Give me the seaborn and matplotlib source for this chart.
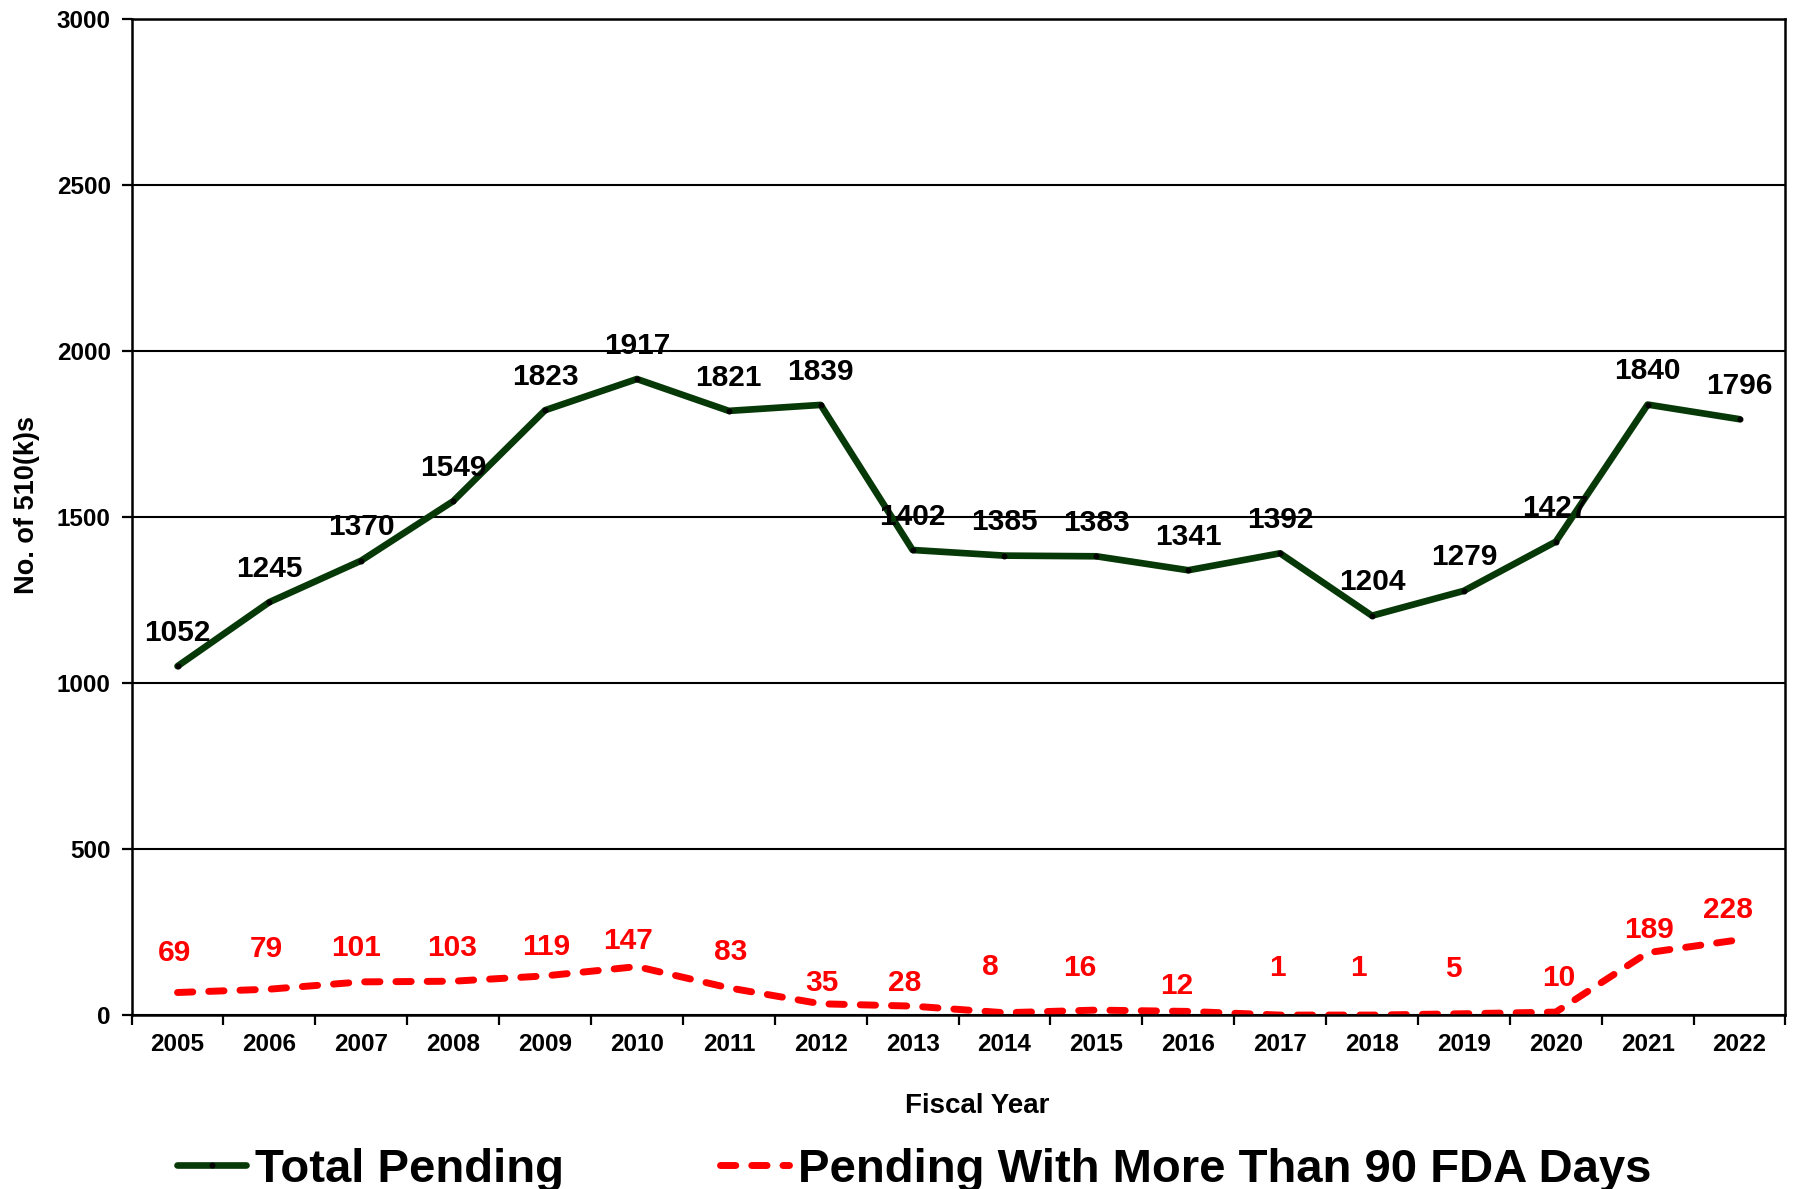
import numpy as np
import pandas as pd
import matplotlib
matplotlib.use("Agg")
import matplotlib.pyplot as plt
import seaborn as sns

# Fiscal years and pending 510(k) counts
years = ["2005", "2006", "2007", "2008", "2009", "2010", "2011", "2012", "2013",
         "2014", "2015", "2016", "2017", "2018", "2019", "2020", "2021", "2022"]
total_pending = [1052, 1245, 1370, 1549, 1823, 1917, 1821, 1839, 1402,
                 1385, 1383, 1341, 1392, 1204, 1279, 1427, 1840, 1796]
over_90_days = [69, 79, 101, 103, 119, 147, 83, 35, 28,
                8, 16, 12, 1, 1, 5, 10, 189, 228]

y_ticks = [0, 500, 1000, 1500, 2000, 2500, 3000]

# label offsets (points) for the red series, nudged to avoid the line
red_dx = [-2.5, -2.5, -4, -1, 1, -6.5, 1, 1, -6, -10, -12, -8, -2, -10, -7.5, 2.5, 1, -8]
red_dy = [28.8, 28.8, 24.7, 23.9, 21, 18.1, 25.5, 14.8, 16.5, 33, 30.5, 18.5,
          33.8, 33.8, 32.5, 24.7, 16.5, 21.4]

df = pd.DataFrame({"year": years, "total": total_pending, "over90": over_90_days})

sns.set_theme(style="white")
plt.rcParams["font.family"] = ["Liberation Sans", "DejaVu Sans"]
plt.rcParams["font.weight"] = "bold"
for key in ["text.color", "axes.labelcolor", "xtick.color", "ytick.color",
            "legend.labelcolor"]:
    plt.rcParams[key] = "black"

GREEN = "#073807"
RED = "#ff0000"

fig = plt.figure(figsize=(17.95, 11.89), dpi=100)
fig.patch.set_facecolor("white")
ax = fig.add_axes([0.0733, 0.1460, 0.9214, 0.8376])

sns.lineplot(data=df, x="year", y="total", ax=ax, color=GREEN, linewidth=4.8,
             marker="o", markersize=3.5, markerfacecolor="black",
             markeredgecolor="black", label="Total Pending", sort=False)
sns.lineplot(data=df, x="year", y="over90", ax=ax, color=RED, linewidth=5,
             linestyle=(0, (2.2, 2.3)), dash_capstyle="round",
             label="Pending With More Than 90 FDA Days", sort=False)

# value labels
for i, v in enumerate(total_pending):
    ax.annotate(str(v), (i, v), xytext=(0, 24), textcoords="offset points",
                ha="center", va="center", fontsize=21.5, fontweight="bold",
                color="black")
for i, v in enumerate(over_90_days):
    ax.annotate(str(v), (i, v), xytext=(red_dx[i], red_dy[i]),
                textcoords="offset points", ha="center", va="center",
                fontsize=21.5, fontweight="bold", color=RED)

ax.set_xlim(-0.5, len(years) - 0.5)
ax.set_ylim(0, 3000)
ax.set_yticks(y_ticks)
ax.set_yticklabels([str(t) for t in y_ticks], fontsize=17.5, fontweight="bold")
ax.set_xticks(range(len(years)))
ax.set_xticklabels(years, fontsize=17.5, fontweight="bold")
ax.set_xticks(np.arange(-0.5, len(years)), minor=True)

ax.tick_params(axis="x", which="major", length=0, pad=13, colors="black")
ax.tick_params(axis="x", which="minor", bottom=True, length=7, width=1.6,
               color="black", direction="out")
ax.tick_params(axis="y", which="major", left=True, length=7, width=1.6,
               pad=8, color="black", direction="out")

ax.grid(axis="y", color="black", linewidth=1.5)
ax.grid(axis="x", visible=False)
ax.set_axisbelow(True)
for side in ["left", "right", "top", "bottom"]:
    ax.spines[side].set_visible(True)
    ax.spines[side].set_color("black")
    ax.spines[side].set_linewidth(1.8)

ax.set_xlabel("Fiscal Year", fontsize=20, fontweight="bold", color="black")
ax.set_ylabel("No. of 510(k)s", fontsize=19.5, fontweight="bold", color="black")
ax.xaxis.label.set_va("center")
ax.yaxis.label.set_va("center")
ax.xaxis.set_label_coords(0.511, -0.0905)
ax.yaxis.set_label_coords(-0.0635, 0.513)

handles, labels = ax.get_legend_handles_labels()
ax.get_legend().remove()
fig.legend(handles, labels, loc="center", bbox_to_anchor=(0.5095, 0.016),
           ncol=2, frameon=False, prop={"size": 34, "weight": "bold"},
           labelcolor="black", handlelength=1.45, handletextpad=0.2,
           columnspacing=3.3, borderaxespad=0, borderpad=0)

fig.savefig("out.png", dpi=100, facecolor="white")
